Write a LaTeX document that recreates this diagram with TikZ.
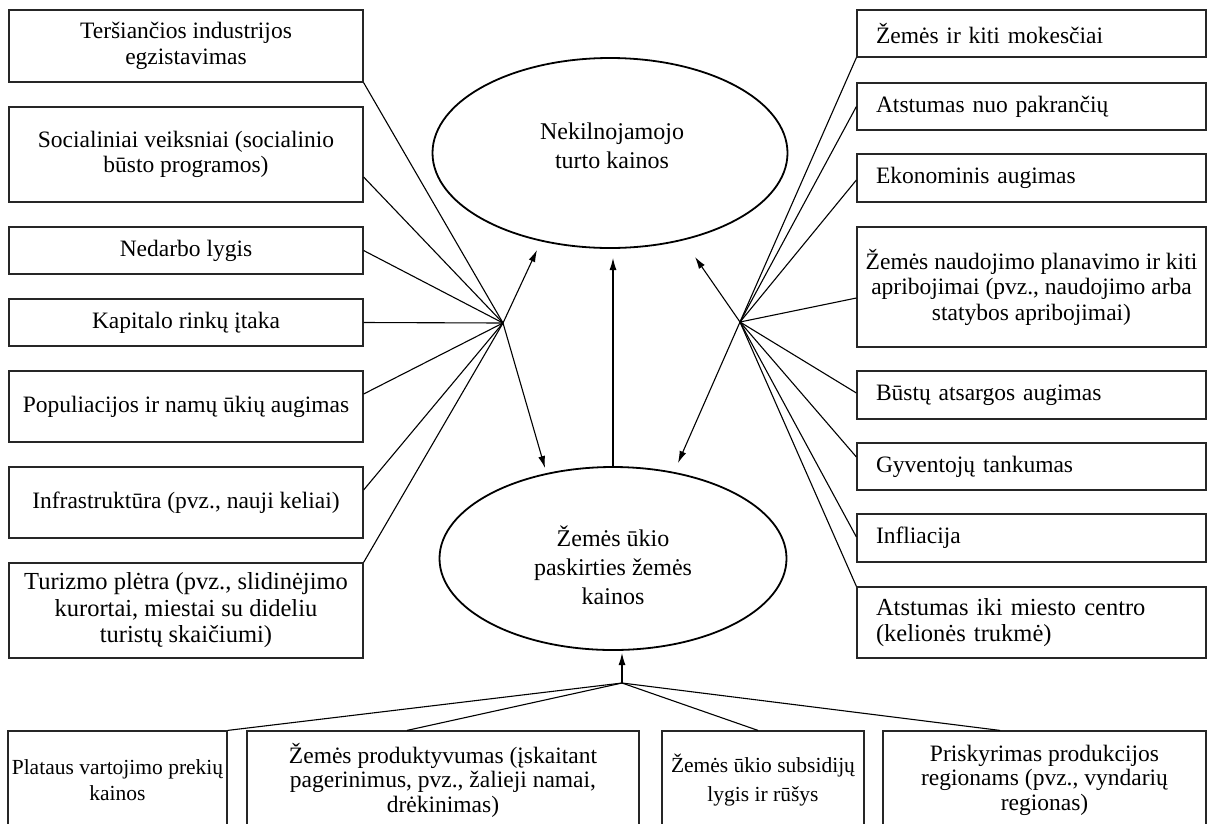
\documentclass[tikz,border=0pt]{standalone}
\usepackage{fontspec}
\setmainfont{Liberation Serif}
\usetikzlibrary{shapes.geometric,arrows.meta,calc}
\begin{document}
\begin{tikzpicture}[x=1pt,y=-1pt,
  txt/.style={font=\fontsize{23.5}{25.5}\selectfont},
  box/.style={draw=black!85, line width=1.2pt, rectangle, inner sep=0pt, align=center, txt},
  lbox/.style={box, minimum width=354pt},
  rbox/.style={box, minimum width=349pt, text width=311pt, inner xsep=19pt, align=left},
  bbox/.style={box, minimum height=98pt},
  oval/.style={draw=black, line width=1.8pt, ellipse, inner sep=0pt},
  ovaltext/.style={align=center, inner sep=0pt, font=\fontsize{24}{29}\selectfont},
  con/.style={draw=black, line width=1.1pt},
  arr/.style={con, -{Latex[length=12pt,width=7pt]}}
]
\clip (0,0) rectangle (1207,823);
\fill[white] (0,0) rectangle (1207,823);

% ellipses
\node[oval, minimum width=355pt, minimum height=190pt] (top) at (610,153) {};
\node[ovaltext] (toptext) at (612,146) {Nekilnojamojo\\turto kainos};
\node[oval, minimum width=347pt, minimum height=183pt] (bot) at (613,558.5) {};
\node[ovaltext] (bottext) at (613,565) {Žemės ūkio\\paskirties žemės\\kainos};

% left boxes
\node[lbox, minimum height=72pt] (L1) at (186,46) {Teršiančios industrijos\\egzistavimas};
\node[lbox, minimum height=95pt] (L2) at (186,154.5) {Socialiniai veiksniai (socialinio\\būsto programos)};
\node[lbox, minimum height=47pt] (L3) at (186,250.5) {Nedarbo lygis};
\node[lbox, minimum height=47pt] (L4) at (186,322.5) {Kapitalo rinkų įtaka};
\node[lbox, minimum height=71pt] (L5) at (186,406.5) {Populiacijos ir namų ūkių augimas};
\node[lbox, minimum height=71pt] (L6) at (186,502.5) {Infrastruktūra (pvz., nauji keliai)};
\node[lbox, minimum height=95pt, font=\fontsize{24.5}{26.5}\selectfont] (L7) at (186,610.5) {Turizmo plėtra (pvz., slidinėjimo\\kurortai, miestai su dideliu\\turistų skaičiumi)};

% right boxes
\node[rbox, minimum height=47pt] (R1) at (1031.5,33.5) {Žemės ir kiti mokesčiai};
\node[rbox, minimum height=47pt] (R2) at (1031.5,106.5) {Atstumas nuo pakrančių};
\node[rbox, minimum height=48pt] (R3) at (1031.5,178) {Ekonominis augimas};
\node[box, minimum width=349pt, minimum height=120pt] (R4) at (1031.5,287) {Žemės naudojimo planavimo ir kiti\\apribojimai (pvz., naudojimo arba\\statybos apribojimai)};
\node[rbox, minimum height=48pt] (R5) at (1031.5,395) {Būstų atsargos augimas};
\node[rbox, minimum height=47pt] (R6) at (1031.5,466.5) {Gyventojų tankumas};
\node[rbox, minimum height=48pt] (R7) at (1031.5,538) {Infliacija};
\node[rbox, minimum height=71pt, font=\fontsize{24.5}{26}\selectfont] (R8) at (1031.5,622.5) {Atstumas iki miesto centro\\(kelionės trukmė)};

% bottom boxes
\node[bbox, minimum width=219pt, font=\fontsize{21.5}{26}\selectfont] (B1) at (117.5,780) {Plataus vartojimo prekių\\kainos};
\node[bbox, minimum width=392pt, font=\fontsize{23.5}{24.5}\selectfont] (B2) at (443,780) {Žemės produktyvumas (įskaitant\\pagerinimus, pvz., žalieji namai,\\drėkinimas)};
\node[bbox, minimum width=202pt, font=\fontsize{21.5}{29}\selectfont] (B3) at (763,780) {Žemės ūkio subsidijų\\lygis ir rūšys};
\node[bbox, minimum width=323pt, font=\fontsize{23.5}{24.5}\selectfont] (B4) at (1044.5,780) {Priskyrimas produkcijos\\regionams (pvz., vyndarių\\regionas)};

% hubs and arrow tips
\coordinate (hubL) at (503,323);
\coordinate (hubR) at (740,322);
\coordinate (hubB) at (622,683);
\coordinate (tL1) at (537,250);
\coordinate (tL2) at (545,468);
\coordinate (tR1) at (695,257);
\coordinate (tR2) at (678,463);
\coordinate (tB) at (622,653);
\coordinate (tM) at (613,258);

% left connectors
\draw[con] (L1.south east) -- (hubL);
\draw[con] ($(L2.east)+(0,22.5)$) -- (hubL);
\draw[con] (L3.east) -- (hubL);
\draw[con] (L4.east) -- (hubL);
\draw[con] ($(L5.east)+(0,-12.5)$) -- (hubL);
\draw[con] ($(L6.east)+(0,-12.5)$) -- (hubL);
\draw[con] (L7.north east) -- (hubL);
\draw[arr] (hubL) -- (tL1);
\draw[arr] (hubL) -- (tL2);

% right connectors
\draw[con] (R1.south west) -- (hubR);
\draw[con] (R2.west) -- (hubR);
\draw[con] ($(R3.west)+(0,2)$) -- (hubR);
\draw[con] ($(R4.west)+(0,11)$) -- (hubR);
\draw[con] ($(R5.west)+(0,-2)$) -- (hubR);
\draw[con] ($(R6.west)+(0,-9.5)$) -- (hubR);
\draw[con] ($(R7.west)+(0,-1)$) -- (hubR);
\draw[con] (R8.north west) -- (hubR);
\draw[arr] (hubR) -- (tR1);
\draw[arr] (hubR) -- (tR2);

% middle arrow
\draw[arr] (bot.north) -- (tM);

% bottom connectors
\draw[con] (B1.north east) -- (hubB);
\draw[con] ($(B2.north)+(-36,0)$) -- (hubB);
\draw[con] ($(B3.north)+(-5,0)$) -- (hubB);
\draw[con] ($(B4.north)+(-44.5,0)$) -- (hubB);
\draw[arr] (hubB) -- (tB);
\end{tikzpicture}
\end{document}
